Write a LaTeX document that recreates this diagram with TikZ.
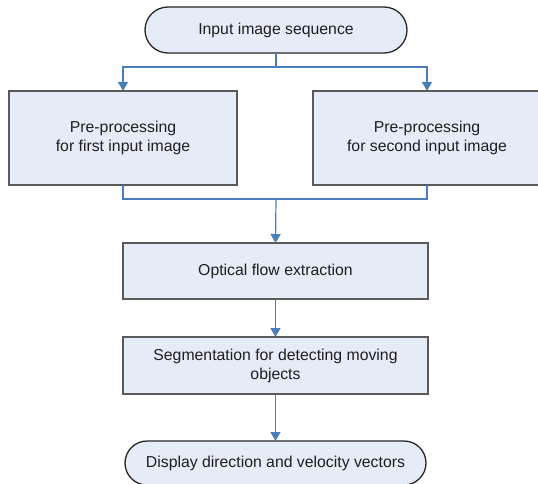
\documentclass[tikz,border=0pt]{standalone}
\usepackage{fontspec}
\setmainfont{Liberation Sans}
\usetikzlibrary{shapes.misc,arrows.meta}
\definecolor{boxfill}{RGB}{230,236,247}
\definecolor{boxline}{RGB}{90,90,90}
\definecolor{flow}{RGB}{74,126,187}
\definecolor{txt}{RGB}{30,30,30}
\tikzset{
  procbox/.style={draw=boxline, line width=1.2pt, fill=boxfill, rectangle, inner sep=2pt, outer sep=0pt, align=center, text=txt, font=\fontsize{15.8}{19}\selectfont},
  termbox/.style={procbox, draw=black!85, line width=1.3pt, rounded rectangle, rounded rectangle arc length=180},
  conn/.style={draw=flow, line width=1.2pt},
  arr/.style={conn, -{Triangle[width=10pt,length=9pt]}},
}
\begin{document}
\begin{tikzpicture}[x=1pt,y=-1pt]
\useasboundingbox (0,0) rectangle (538,484);
\clip (0,0) rectangle (538,484);
\node[termbox, minimum width=266pt, minimum height=46pt] (top) at (276,30) {Input image sequence};
\node[procbox, minimum width=228pt, minimum height=94pt] (left) at (123,138) {Pre-processing\\for first input image};
\node[procbox, minimum width=228pt, minimum height=94pt] (right) at (427,138) {Pre-processing\\for second input image};
\node[procbox, minimum width=305pt, minimum height=56pt] (opt) at (275.5,271) {Optical flow extraction};
\node[procbox, minimum width=305pt, minimum height=57pt] (seg) at (275.5,365.5) {Segmentation for detecting moving\\objects};
\node[termbox, minimum width=305pt, minimum height=44pt] (disp) at (275.5,463) {Display direction and velocity vectors};
\coordinate (split) at (276,67);
\coordinate (merge) at (276,199);
\draw[conn] (top.south) -- (split);
\draw[arr] (split) -| (left.north);
\draw[arr] (split) -| (right.north);
\draw[conn] (left.south) |- (merge) -| (right.south);
\draw[arr] (merge) -- (opt.north);
\draw[arr] (opt.south) -- (seg.north);
\draw[arr] (seg.south) -- (disp.north);
\end{tikzpicture}
\end{document}
